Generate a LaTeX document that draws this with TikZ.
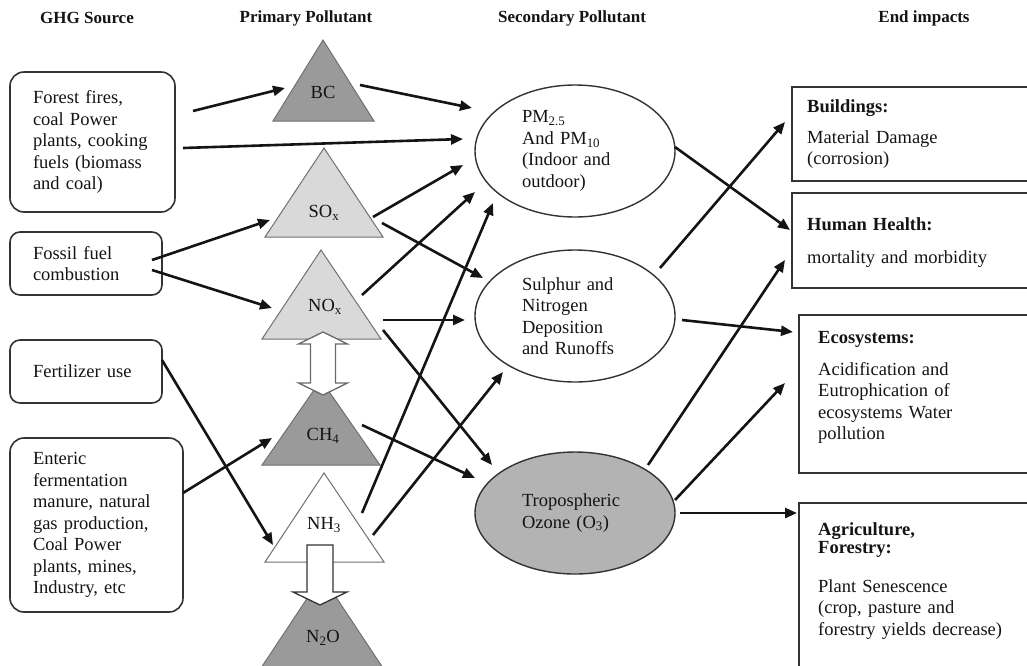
\documentclass[tikz,border=0pt]{standalone}
\usepackage{fontspec}
\setmainfont{Liberation Serif}
\usetikzlibrary{arrows.meta,shapes.geometric}
\definecolor{ink}{HTML}{141414}
\definecolor{triedge}{HTML}{707070}
\definecolor{darktri}{HTML}{9A9A9A}
\definecolor{lighttri}{HTML}{D9D9D9}
\definecolor{ozfill}{HTML}{B3B3B3}
\definecolor{boxedge}{HTML}{333333}
\definecolor{hollowedge}{HTML}{6A6A6A}
\begin{document}
\begin{tikzpicture}[x=1pt,y=-1pt,
  every node/.style={font=\fontsize{18.5}{21.5}\selectfont, text=ink},
  hdr/.style={font=\fontsize{17}{20}\selectfont\bfseries, inner sep=0pt},
  srcbox/.style={draw=boxedge, line width=1.6pt, rounded corners=14pt, align=left, inner xsep=23pt, inner ysep=0pt},
  ell/.style={ellipse, draw=boxedge, line width=1.4pt, minimum width=200pt, text width=106pt, align=left, inner sep=0pt},
  endbox/.style={draw=boxedge, line width=1.7pt, anchor=north west, minimum width=240pt, inner sep=0pt},
  endtext/.style={anchor=base west, align=left, inner sep=0pt, text width=200pt},
  tri/.style={draw=triedge, line width=1pt, line join=miter},
  lbl/.style={inner sep=0pt},
  arr/.style={-{Triangle[length=12pt,width=10pt]}, line width=2.6pt, draw=ink},
  hollow/.style={fill=white, draw=hollowedge, line width=1.3pt, line join=miter}
]
\useasboundingbox (0,0) rectangle (1027,665);
\clip (0,0) rectangle (1027,665);

% headers
\node[hdr] (h1) at (87,18) {GHG Source};
\node[hdr] (h2) at (306,18) {Primary Pollutant};
\node[hdr] (h3) at (572,18) {Secondary Pollutant};
\node[hdr] (h4) at (924,18) {End impacts};

% source boxes
\node[srcbox, text width=119pt, minimum width=165pt, minimum height=140pt] (b1) at (92.5,142)
  {Forest fires,\\ coal Power\\ plants, cooking\\ fuels (biomass\\ and coal)};
\node[srcbox, rounded corners=10pt, text width=106pt, minimum width=152pt, minimum height=63pt] (b2) at (86,263.5)
  {Fossil fuel\\ combustion};
\node[srcbox, rounded corners=10pt, text width=106pt, minimum width=152pt, minimum height=63pt] (b3) at (86,371.5)
  {Fertilizer use};
\node[srcbox, text width=127pt, minimum width=173pt, minimum height=174pt] (b4) at (96.5,525)
  {Enteric\\ fermentation\\ manure, natural\\ gas production,\\ Coal Power\\ plants, mines,\\ Industry, etc};

% triangles
\draw[tri, fill=darktri] (323,40) -- (374,121) -- (273,121) -- cycle;
\draw[tri, fill=lighttri] (324,148) -- (383,237) -- (265,237) -- cycle;
\draw[tri, fill=lighttri] (321,250) -- (381,339) -- (262,339) -- cycle;
\draw[tri, fill=darktri] (321,380) -- (380,465) -- (262,465) -- cycle;
\draw[tri, fill=white] (324,473) -- (384,562) -- (265,562) -- cycle;
\draw[tri, fill=darktri] (322,576) -- (383,668) -- (261,668) -- cycle;

% hollow arrows
\draw[hollow] (323,332) -- (347.5,344) -- (335.5,344) -- (335.5,383) -- (347.5,383) -- (323,395)
  -- (298.5,383) -- (310.5,383) -- (310.5,344) -- (298.5,344) -- cycle;
\draw[hollow, draw=boxedge] (307,545) -- (333,545) -- (333,592) -- (347,592) -- (320,605) -- (293,592) -- (307,592) -- cycle;

% triangle labels
\node[lbl] (bc) at (323,92) {BC};
\node[lbl] (sox) at (324,213) {SO\textsubscript{x}};
\node[lbl] (nox) at (325,307) {NO\textsubscript{x}};
\node[lbl] (ch4) at (323,436) {CH\textsubscript{4}};
\node[lbl] (nh3) at (324,525) {NH\textsubscript{3}};
\node[lbl] (n2o) at (323,638) {N\textsubscript{2}O};

% secondary pollutants
\node[ell, minimum height=132pt] (pm) at (575,151)
  {PM\textsubscript{2.5}\\ And PM\textsubscript{10}\\ (Indoor and\\ outdoor)};
\node[ell, minimum height=132pt] (sul) at (575,316)
  {Sulphur and\\ Nitrogen\\ Deposition\\ and Runoffs};
\node[ell, fill=ozfill, minimum height=122pt] (oz) at (575,513)
  {Tropospheric\\ Ozone (O\textsubscript{3})};

% end impact boxes
\node[endbox, minimum height=94pt] (bld) at (791,86) {};
\node[endbox, minimum height=95pt] (hh) at (791,192) {};
\node[endbox, minimum height=158pt] (eco) at (798,314) {};
\node[endbox, minimum height=170pt] (agr) at (798,502) {};
\node[endtext] (bldt) at ([shift={(16,26)}]bld.north west)
  {\textbf{Buildings:}\\[9.5pt] Material Damage\\ (corrosion)};
\node[endtext] (hht) at ([shift={(16,38)}]hh.north west)
  {\textbf{Human Health:}\\[11.5pt] mortality and morbidity};
\node[endtext] (ecot) at ([shift={(20,29)}]eco.north west)
  {\textbf{Ecosystems:}\\[10.5pt] Acidification and\\ Eutrophication of\\ ecosystems Water\\ pollution};
\node[endtext] (agrt) at ([shift={(20,33)}]agr.north west)
  {\textbf{Agriculture,}\\[-3.5pt] \textbf{Forestry:}\\[17.5pt] Plant Senescence\\ (crop, pasture and\\ forestry yields decrease)};

% connectors
\draw[arr] ([shift={(100.5,-31)}]b1.center) -- ([shift={(-38,-4)}]bc.center);
\draw[arr] ([shift={(90.5,6)}]b1.center) -- ([shift={(-112,-12)}]pm.center);
\draw[arr] ([shift={(37,-7)}]bc.center) -- ([shift={(-103,-43)}]pm.center);
\draw[arr] ([shift={(49,4)}]sox.center) -- ([shift={(-112,14)}]pm.center);
\draw[arr] ([shift={(37,-12)}]nox.center) -- ([shift={(-100,41)}]pm.center);
\draw[arr] ([shift={(38,-12)}]nh3.center) -- ([shift={(-82,52)}]pm.center);
\draw[arr] ([shift={(66,-3.5)}]b2.center) -- ([shift={(-54,7)}]sox.center);
\draw[arr] ([shift={(66,6.5)}]b2.center) -- ([shift={(-53,1)}]nox.center);
\draw[arr] ([shift={(76,-11.5)}]b3.center) -- ([shift={(-51,20)}]nh3.center);
\draw[arr] ([shift={(86.5,-32)}]b4.center) -- ([shift={(-51,2)}]ch4.center);
\draw[arr] ([shift={(58,10)}]sox.center) -- ([shift={(-92,-38)}]sul.center);
\draw[arr] ([shift={(58,13)}]nox.center) -- ([shift={(-110,4)}]sul.center);
\draw[arr] ([shift={(58,23)}]nox.center) -- ([shift={(-83,-48)}]oz.center);
\draw[arr] ([shift={(39,-11)}]ch4.center) -- ([shift={(-100,-35)}]oz.center);
\draw[arr] ([shift={(49,10)}]nh3.center) -- ([shift={(-72,56)}]sul.center);
\draw[arr] ([shift={(100,-4)}]pm.center) -- ([shift={(-1,38)}]hh.north west);
\draw[arr] ([shift={(85,-48)}]sul.center) -- ([shift={(-6,36)}]bld.north west);
\draw[arr] ([shift={(107,4)}]sul.center) -- ([shift={(-5,18)}]eco.north west);
\draw[arr] ([shift={(73,-48)}]oz.center) -- ([shift={(-6,68)}]hh.north west);
\draw[arr] ([shift={(100,-13)}]oz.center) -- ([shift={(-13,69)}]eco.north west);
\draw[arr] ([shift={(105,0)}]oz.center) -- ([shift={(-1,11)}]agr.north west);
\end{tikzpicture}
\end{document}
